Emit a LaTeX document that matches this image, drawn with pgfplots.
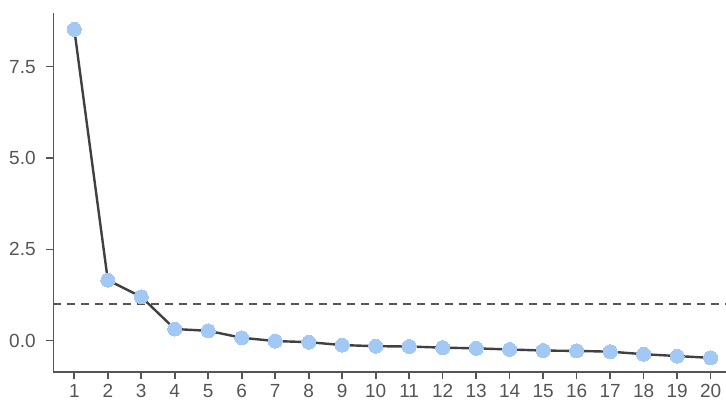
\documentclass[border=0pt]{standalone}
\usepackage{fontspec}
\setmainfont{Liberation Sans}
\usepackage{pgfplots}
\pgfplotsset{compat=1.18}
\definecolor{ptblue}{HTML}{A1C9F4}
\definecolor{lnclr}{HTML}{404040}
\definecolor{axclr}{HTML}{555555}
\begin{document}
\begin{tikzpicture}
\begin{axis}[
  at={(0,0)}, anchor=south west,
  scale only axis,
  width=336.35pt, height=179.5pt,
  xmin=0.373, xmax=20.46,
  ymin=-0.857, ymax=8.97,
  axis x line*=bottom, axis y line*=left,
  axis line style={axclr, line width=0.8pt},
  every tick/.style={axclr, line width=0.8pt},
  tick align=outside,
  major tick length=3.5pt,
  xtick={1,...,20},
  ytick={0,2.5,5,7.5},
  yticklabel style={/pgf/number format/fixed, /pgf/number format/fixed zerofill, /pgf/number format/precision=1, xshift=-1.8pt},
  /pgf/number format/assume math mode=true,
  tick label style={font=\fontsize{9.5}{10}\selectfont, text=axclr},
  xticklabel style={yshift=-1.5pt, inner ysep=1pt},
  clip=false,
]
\addplot[axclr, dash pattern=on 4pt off 3pt, line width=0.75pt, forget plot]
  coordinates {(0.373,1) (20.46,1)};
\addplot[lnclr, line width=1.2pt, mark=*, mark size=3.5pt,
  mark options={draw=ptblue, fill=ptblue, line width=0pt}]
  coordinates {
  (1,8.52) (2,1.66) (3,1.20) (4,0.32) (5,0.27) (6,0.08) (7,-0.01) (8,-0.04)
  (9,-0.12) (10,-0.15) (11,-0.16) (12,-0.19) (13,-0.21) (14,-0.24) (15,-0.27)
  (16,-0.28) (17,-0.30) (18,-0.37) (19,-0.42) (20,-0.47)};
\end{axis}
\pgfresetboundingbox
\useasboundingbox (-26.65pt,-17.5pt) rectangle (336.35pt,186pt);
\end{tikzpicture}
\end{document}
